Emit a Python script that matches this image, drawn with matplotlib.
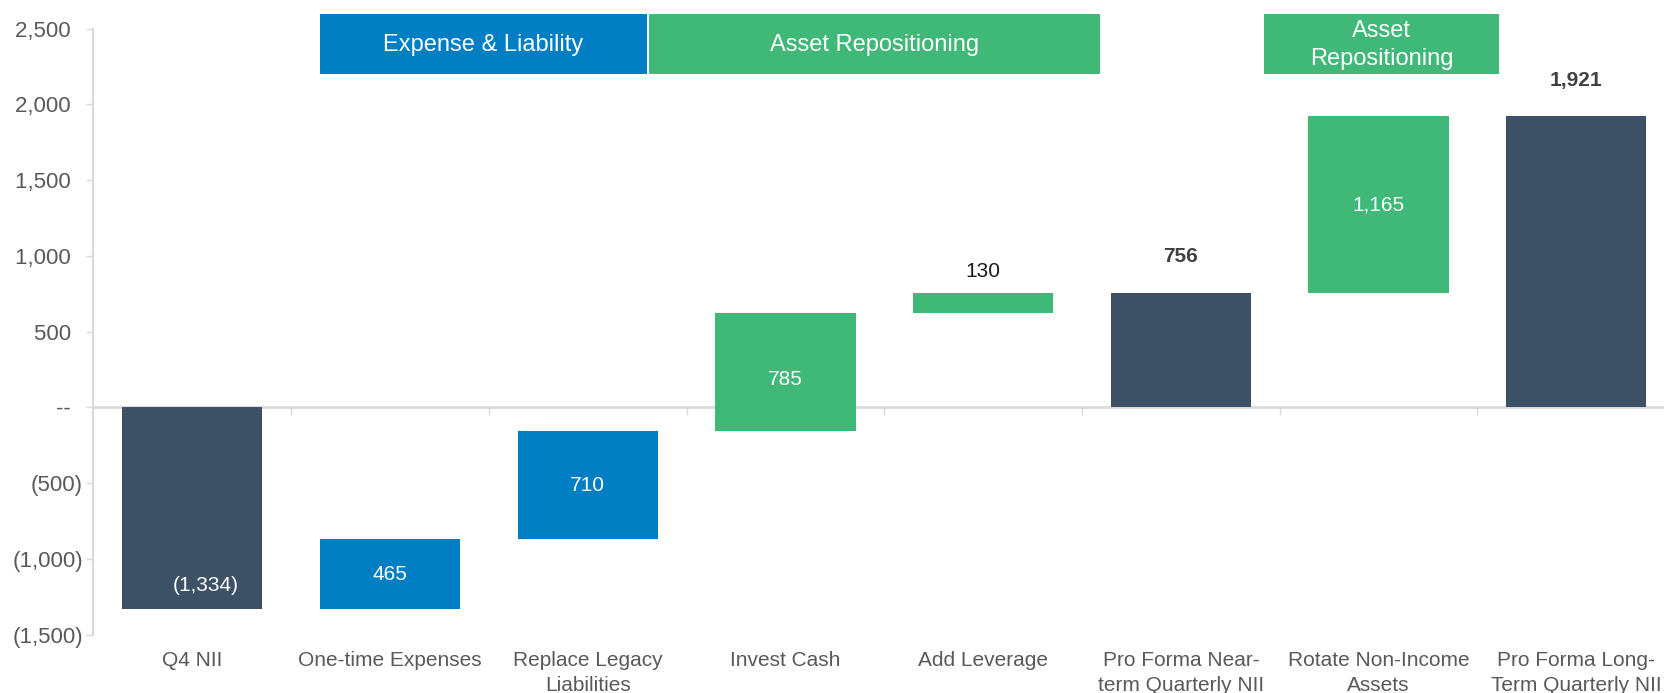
import matplotlib
matplotlib.use("Agg")
import matplotlib.pyplot as plt
from matplotlib.patches import Rectangle

plt.rcParams['font.family'] = ['Liberation Sans', 'DejaVu Sans']

# ---- data ----
categories = ["Q4 NII", "One-time Expenses", "Replace Legacy\nLiabilities", "Invest Cash",
              "Add Leverage", "Pro Forma Near-\nterm Quarterly NII", "Rotate Non-Income\nAssets",
              "Pro Forma Long-\nTerm Quarterly NII"]
values = [-1334, 465, 710, 785, 130, 756, 1165, 1921]
kinds = ["total", "delta", "delta", "delta", "delta", "total", "delta", "total"]
groups = ["base", "expense", "expense", "asset", "asset", "base", "asset", "base"]
value_labels = ["(1,334)", "465", "710", "785", "130", "756", "1,165", "1,921"]
banner_text = ["Expense & Liability", "Asset Repositioning", "Asset\nRepositioning"]
banner_group = ["expense", "asset", "asset"]
yticks = [-1500, -1000, -500, 0, 500, 1000, 1500, 2000, 2500]

# ---- styles ----
colors = {"base": "#3D5166", "expense": "#007EC4", "asset": "#3FB878"}
banner_span = [(0.645, 2.300), (2.310, 4.590), (5.420, 6.610)]
banner_y = (2200, 2600)

fig = plt.figure(figsize=(16.65, 6.93), dpi=100)
ax = fig.add_axes([0.0561, 0.0843, 0.95, 0.8743])

# waterfall geometry
bottoms, heights = [], []
running = 0
for v, k in zip(values, kinds):
    if k == "total":
        bottoms.append(0)
        heights.append(v)
        running = v
    else:
        bottoms.append(running)
        heights.append(v)
        running += v

x = list(range(len(categories)))
ax.bar(x, heights, bottom=bottoms, width=0.71,
       color=[colors[g] for g in groups], zorder=3)

# value labels
for i, (b, h, lab, k) in enumerate(zip(bottoms, heights, value_labels, kinds)):
    top = max(b, b + h)
    if i == 0:
        ax.text(i + 0.07, b + h + 158, lab, ha="center", va="center", color="white", fontsize=15, zorder=4)
    elif k == "total":
        ax.text(i, top + 240, lab, ha="center", va="center", color="#404040",
                fontsize=15, fontweight="bold", zorder=4)
    elif abs(h) < 300:
        ax.text(i, top + 140, lab, ha="center", va="center", color="#1A1A1A", fontsize=15, zorder=4)
    else:
        off = -50 if i == 3 else 0
        ax.text(i, b + h / 2 + off, lab, ha="center", va="center", color="white", fontsize=15, zorder=4)

# banners
for (x0, x1), txt, g in zip(banner_span, banner_text, banner_group):
    ax.add_patch(Rectangle((x0, banner_y[0]), x1 - x0, banner_y[1] - banner_y[0],
                           facecolor=colors[g], edgecolor="none", clip_on=False, zorder=2))
    ax.text((x0 + x1) / 2, sum(banner_y) / 2 - 10, txt, ha="center", va="center",
            color="white", fontsize=17, linespacing=1.35, clip_on=False, zorder=3)

# axes styling
ax.set_xlim(-0.5, 7.5)
ax.set_ylim(-1500, 2500)

def fmt(v):
    if v == 0:
        return "--  "
    if v < 0:
        return "({:,})".format(-v)
    return "{:,}  ".format(v)

ax.set_yticks(yticks)
ax.set_yticklabels([fmt(v) for v in yticks])
ax.tick_params(axis="y", length=5, width=1, color="#D9D9D9", labelcolor="#595959",
               labelsize=16, pad=2.5)

ax.set_xticks(x)
ax.set_xticklabels(categories, linespacing=1.4)
ax.tick_params(axis="x", length=0, labelcolor="#595959", labelsize=15, pad=12)

for s in ["top", "right", "bottom"]:
    ax.spines[s].set_visible(False)
ax.spines["left"].set_color("#D9D9D9")
ax.spines["left"].set_linewidth(1.5)

# zero line with category-boundary ticks
sec = ax.secondary_xaxis(0.375)
sec.set_xticks([i + 0.5 for i in range(len(categories) - 1)])
sec.set_xticklabels([])
sec.tick_params(axis="x", direction="out", length=6, width=1, color="#D9D9D9")
sec.spines["bottom"].set_color("#D9D9D9")
sec.spines["bottom"].set_linewidth(2)

fig.savefig("out.png", dpi=100)
